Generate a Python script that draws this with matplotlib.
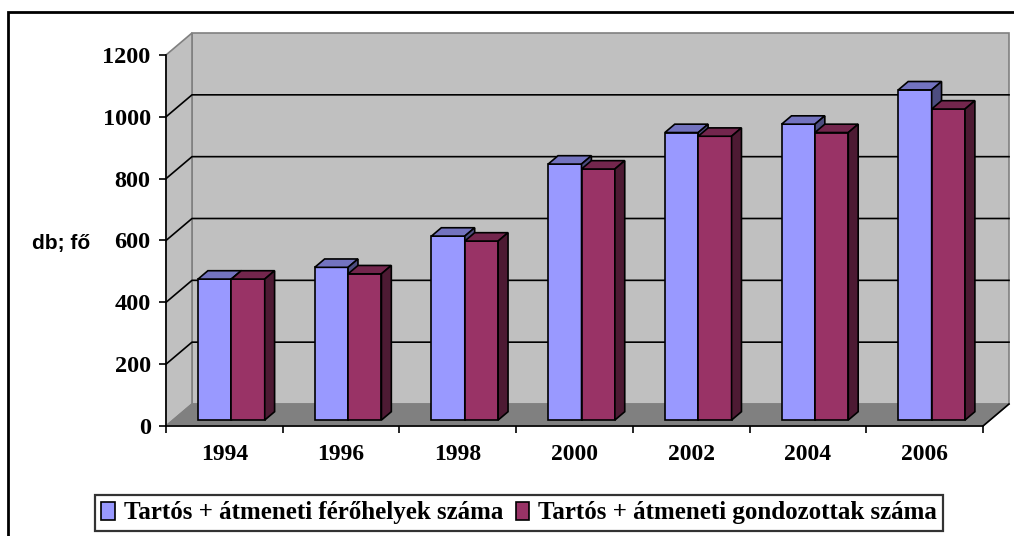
import matplotlib
matplotlib.use("Agg")
import matplotlib.pyplot as plt
from matplotlib.patches import Polygon, Patch, Rectangle

years = ["1994", "1996", "1998", "2000", "2002", "2004", "2006"]
ferohely = [456, 494, 595, 828, 930, 957, 1068]
gondozott = [456, 473, 579, 812, 918, 930, 1006]
labels = ["Tartós + átmeneti férőhelyek száma", "Tartós + átmeneti gondozottak száma"]
yticks = [0, 200, 400, 600, 800, 1000, 1200]

W, H = 1014, 536
fig = plt.figure(figsize=(W / 100, H / 100), dpi=100)
fig.patch.set_facecolor("white")

# front plane of the 3D box (pixels)
x0, x1, y0, y1 = 166, 983, 426, 55
ax = fig.add_axes([x0 / W, 1 - y0 / H, (x1 - x0) / W, (y0 - y1) / H])
ax.set_xlim(0, len(years))
ax.set_ylim(0, 1200)
ax.patch.set_visible(False)

# depth offset in data units
DX = 26 / ((x1 - x0) / len(years))
DY = 22 * 1200 / (y0 - y1)
n = len(years)
ymax = yticks[-1]

def poly(pts, fc, ec, lw=1.0, z=1):
    ax.add_patch(Polygon(pts, closed=True, facecolor=fc, edgecolor=ec,
                         linewidth=lw, zorder=z, clip_on=False))

# walls and floor
poly([(DX, DY), (n + DX, DY), (n + DX, ymax + DY), (DX, ymax + DY)], "#c0c0c0", "#808080", 1.2, 0)
poly([(0, 0), (DX, DY), (DX, ymax + DY), (0, ymax)], "#c0c0c0", "#808080", 1.2, 0)
poly([(0, 0), (n, 0), (n + DX, DY), (DX, DY)], "#808080", "#808080", 1.0, 0)

for v in yticks[1:-1]:
    ax.plot([0, DX, n + DX], [v, v + DY, v + DY], color="black", lw=1.2, zorder=0.5, clip_on=False)
ax.plot([n, n + DX], [0, DY], color="black", lw=1.2, zorder=0.5, clip_on=False)

# bars
bw = 1 / 3.5
f0, f1 = 0.27, 0.65
series = [
    (ferohely, "#9999ff", "#7373bf", "#4d4d80", 0.75 * bw),
    (gondozott, "#993366", "#73264d", "#4d1a33", 1.75 * bw),
]
for i in range(n):
    for vals, front, top, side, off in series:
        v = vals[i]
        xl = i + off + f0 * DX
        xr = xl + bw
        yb = f0 * DY
        d = f1 - f0
        ax.bar(xl, v, width=bw, bottom=yb, align="edge", color=front,
               edgecolor="black", linewidth=1.2, zorder=2, clip_on=False)
        poly([(xl, v + yb), (xr, v + yb), (xr + d * DX, v + yb + d * DY), (xl + d * DX, v + yb + d * DY)],
             top, "black", 1.2, 2)
        poly([(xr, yb), (xr + d * DX, yb + d * DY), (xr + d * DX, v + yb + d * DY), (xr, v + yb)],
             side, "black", 1.2, 2)

# axes
for s in ["top", "right"]:
    ax.spines[s].set_visible(False)
ax.spines["left"].set_linewidth(1.2)
ax.spines["bottom"].set_linewidth(1.2)
ax.set_yticks(yticks)
ax.set_yticklabels([str(t) for t in yticks], fontfamily="Liberation Serif",
                   fontweight="bold", fontsize=17.5)
ax.set_xticks(range(n + 1))
ax.set_xticklabels([])
ax.set_xticks([i + 0.5 for i in range(n)], minor=True)
ax.set_xticklabels(years, minor=True, fontfamily="Liberation Serif",
                   fontweight="bold", fontsize=17)
ax.tick_params(axis="x", which="minor", length=0, pad=13)
ax.tick_params(axis="both", which="major", direction="out", length=5, width=1.2)
ax.tick_params(axis="y", pad=6)

fig.text(32 / W, 1 - 243 / H, "db; fő", fontfamily="Liberation Sans", fontweight="bold",
         fontsize=15, va="center", ha="left")

# chart border
fig.patches.append(Rectangle((8 / W, -0.01), 1.02, 1 - 12 / H + 0.01, transform=fig.transFigure,
                             fill=False, edgecolor="black", linewidth=2))

handles = [Patch(facecolor=c, edgecolor="black", linewidth=1.2) for c in ["#9999ff", "#993366"]]
leg = fig.legend(handles, labels, loc="center", bbox_to_anchor=(519 / W, 1 - 513 / H), ncol=2,
                 prop={"family": "Liberation Serif", "weight": "bold", "size": 18},
                 frameon=True, fancybox=False, edgecolor="black", handlelength=0.55,
                 handleheight=0.7, handletextpad=0.35, columnspacing=0.5, borderpad=0.25)
leg.get_frame().set_linewidth(1.6)

fig.savefig("out.png", dpi=100)
